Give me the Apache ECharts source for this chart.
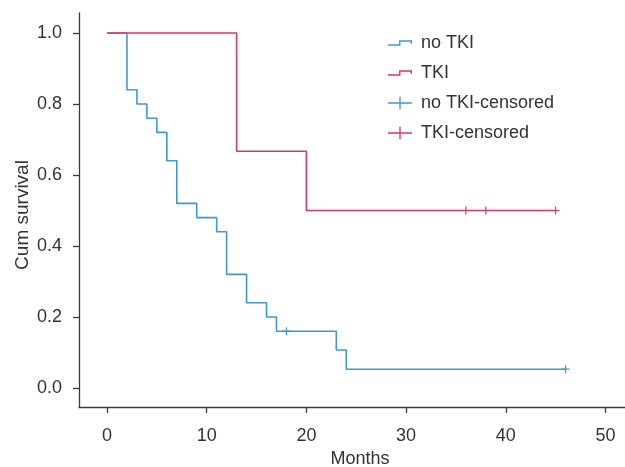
<!DOCTYPE html>
<html>
<head>
<meta charset="utf-8">
<script src="https://cdn.jsdelivr.net/npm/echarts@6/dist/echarts.min.js"></script>
<style>
  html, body { margin: 0; padding: 0; background: #fff; }
  #chart { width: 625px; height: 467px; }
</style>
</head>
<body>
<div id="chart"></div>
<script>
// Kaplan-Meier data
const noTkiMonths = [0, 2, 3, 4, 5, 6, 7, 9, 11, 12, 14, 16, 17, 23, 24, 46];
const noTkiSurvival = [1, 0.84, 0.80, 0.76, 0.72, 0.64, 0.52, 0.48, 0.44, 0.32, 0.24, 0.20, 0.16, 0.107, 0.053, 0.053];
const tkiMonths = [0, 13, 20, 45];
const tkiSurvival = [1, 0.667, 0.5, 0.5];
const noTkiCensoredMonths = [18, 46];
const noTkiCensoredSurvival = [0.16, 0.053];
const tkiCensoredMonths = [36, 38, 45];
const tkiCensoredSurvival = [0.5, 0.5, 0.5];
const xTicks = [0, 10, 20, 30, 40, 50];
const yTicks = [0, 0.2, 0.4, 0.6, 0.8, 1.0];

const BLUE = '#3f97d8';
const RED = '#e1346a';
const TEXT = '#333333';
const FONT = 'Liberation Sans, Arial, sans-serif';

const zip = (xs, ys) => xs.map((x, i) => [x, ys[i]]);

// icons
const stepIcon = 'path://M0,4 L11.5,4 L11.5,0 L25,0 L25,3.5 L23.5,3.5 L23.5,1.5 L13,1.5 L13,5.5 L0,5.5 Z';
const plusIcon = 'path://M0,5.8 L11.8,5.8 L11.8,0 L13.2,0 L13.2,5.8 L25,5.8 L25,7.2 L13.2,7.2 L13.2,13 L11.8,13 L11.8,7.2 L0,7.2 Z';
const plusMark = 'path://M0,3.4 L3.4,3.4 L3.4,0 L4.6,0 L4.6,3.4 L8,3.4 L8,4.6 L4.6,4.6 L4.6,8 L3.4,8 L3.4,4.6 L0,4.6 Z';

const legendRow = (name, icon, color, top, h) => ({
  left: 388,
  top: top,
  padding: 0,
  itemWidth: 24,
  itemHeight: h,
  selectedMode: false,
  textStyle: { fontSize: 18, color: TEXT, fontFamily: FONT, padding: [0, 0, 0, 4], lineHeight: 20 },
  data: [{ name: name, icon: icon, itemStyle: { color: color, borderWidth: 0, opacity: 1 } }]
});

const chart = echarts.init(document.getElementById('chart'));

chart.setOption({
  animation: false,
  backgroundColor: '#fff',
  textStyle: { fontFamily: FONT },
  grid: { left: 79, top: 13, right: 0, bottom: 60, containLabel: false, outerBoundsMode: 'none' },
  legend: [
    legendRow('no TKI', stepIcon, BLUE, 33, 5.5),
    legendRow('TKI', stepIcon, RED, 63, 5.5),
    legendRow('no TKI-censored', plusIcon, BLUE, 93, 13),
    legendRow('TKI-censored', plusIcon, RED, 123, 13)
  ],
  xAxis: {
    type: 'value',
    min: -2.81,
    max: 51.96,
    name: 'Months',
    nameLocation: 'middle',
    nameGap: 43,
    nameTextStyle: { fontSize: 18, color: TEXT, padding: [0, 0, 0, 16] },
    splitLine: { show: false },
    axisLine: { onZero: false, lineStyle: { color: '#3a3a3a', width: 1.3 } },
    axisTick: { customValues: xTicks, length: 6, lineStyle: { color: '#3a3a3a', width: 1.3 } },
    axisLabel: { customValues: xTicks, fontSize: 18, color: TEXT, margin: 20 }
  },
  yAxis: {
    type: 'value',
    min: -0.0535,
    max: 1.0563,
    name: 'Cum survival',
    nameLocation: 'middle',
    nameGap: 47,
    nameMoveOverlap: false,
    nameTextStyle: { fontSize: 19, color: TEXT, padding: [0, 10, 0, 0] },
    splitLine: { show: false },
    axisLine: { show: true, onZero: false, lineStyle: { color: '#3a3a3a', width: 1.3 } },
    axisTick: { show: true, customValues: yTicks, length: 6, lineStyle: { color: '#3a3a3a', width: 1.3 } },
    axisLabel: { customValues: yTicks, fontSize: 18, color: TEXT, margin: 17, formatter: v => v.toFixed(1) }
  },
  series: [
    {
      name: 'no TKI',
      type: 'line',
      step: 'end',
      showSymbol: false,
      data: zip(noTkiMonths, noTkiSurvival),
      lineStyle: { color: BLUE, width: 1.6 },
      itemStyle: { color: BLUE },
      z: 2
    },
    {
      name: 'no TKI-censored',
      type: 'scatter',
      symbol: plusMark,
      symbolSize: 8,
      data: zip(noTkiCensoredMonths, noTkiCensoredSurvival),
      itemStyle: { color: BLUE, opacity: 1 },
      z: 3
    },
    {
      name: 'TKI',
      type: 'line',
      step: 'end',
      showSymbol: false,
      data: zip(tkiMonths, tkiSurvival),
      lineStyle: { color: RED, width: 1.6 },
      itemStyle: { color: RED },
      z: 4
    },
    {
      name: 'TKI-censored',
      type: 'scatter',
      symbol: plusMark,
      symbolSize: 8,
      data: zip(tkiCensoredMonths, tkiCensoredSurvival),
      itemStyle: { color: RED, opacity: 1 },
      z: 5
    }
  ]
});
</script>
</body>
</html>
